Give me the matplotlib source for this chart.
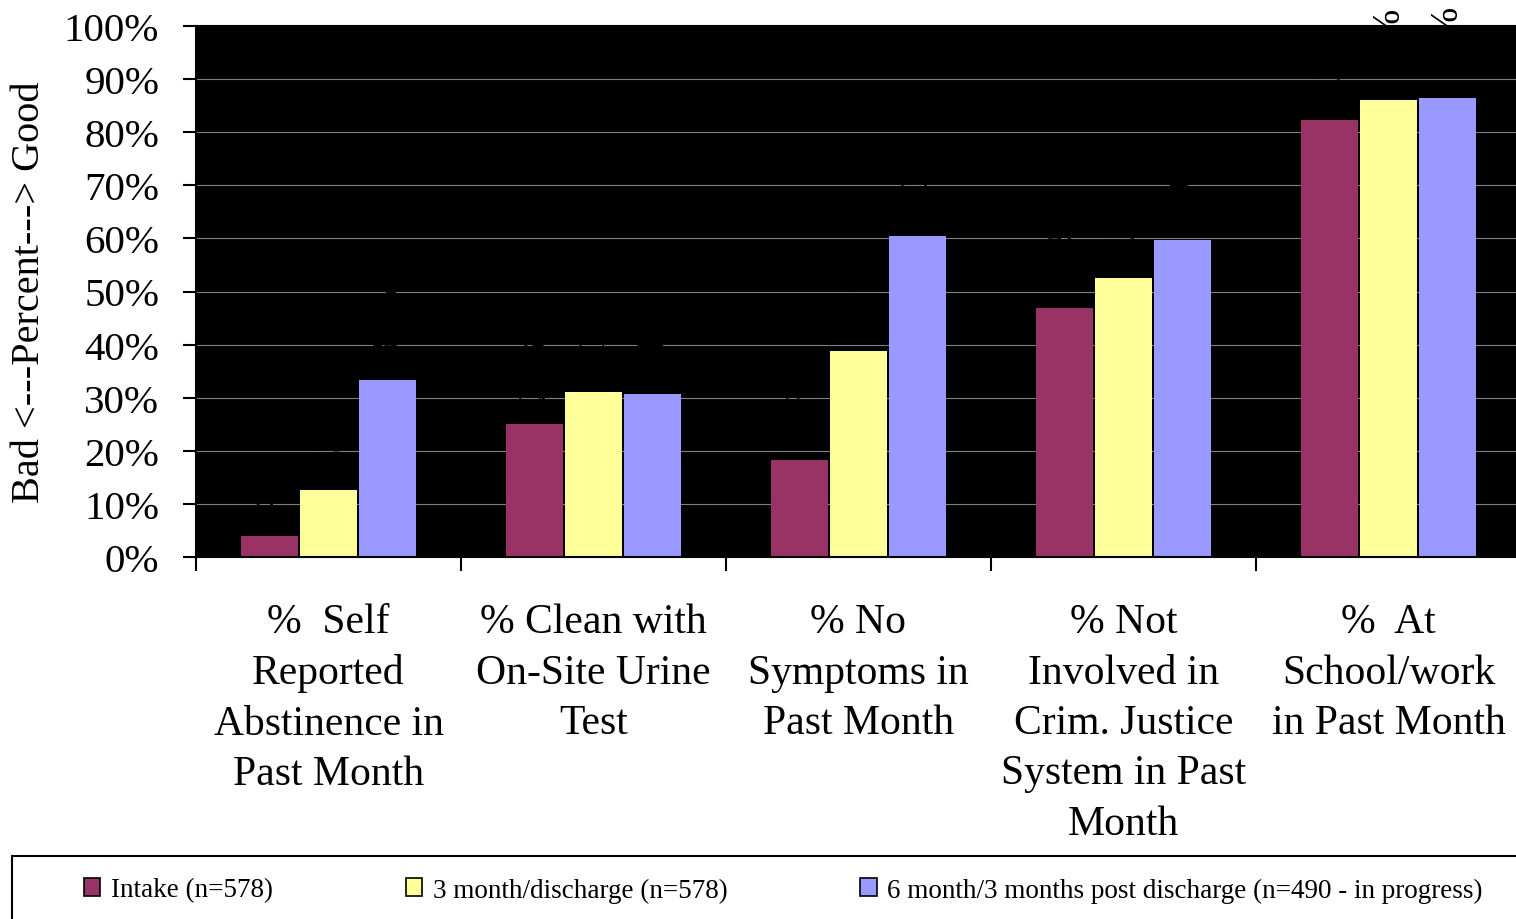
import numpy as np
import matplotlib
matplotlib.use('Agg')
import matplotlib.pyplot as plt
from matplotlib.patches import Rectangle, Patch
from matplotlib.ticker import FixedLocator, PercentFormatter

plt.rcParams['font.family'] = ['Liberation Serif', 'DejaVu Serif']

# outcome categories (x axis)
categories = ['%  Self\nReported\nAbstinence in\nPast Month',
              '% Clean with\nOn-Site Urine\nTest',
              '% No\nSymptoms in\nPast Month',
              '% Not\nInvolved in\nCrim. Justice\nSystem in Past\nMonth',
              '%  At\nSchool/work\nin Past Month']

# percent of clients at each follow-up point
intake = [4.0, 25.0, 18.3, 46.9, 82.3]
three_month = [12.6, 31.1, 38.8, 52.5, 86.1]
six_month = [33.3, 30.7, 60.5, 59.7, 86.4]

series_names = ['Intake (n=578)',
                '3 month/discharge (n=578)',
                '6 month/3 months post discharge (n=490 - in progress)']
series_colors = ['#993366', '#FFFF99', '#9999FF']
yticks = [0, 10, 20, 30, 40, 50, 60, 70, 80, 90, 100]

fig = plt.figure(figsize=(15.16, 9.2), dpi=100)
ax = fig.add_axes([196 / 1516, 1 - 558 / 920, 1325 / 1516, 531 / 920])
ax.set_facecolor('black')

x = np.arange(len(categories))
pitch = 0.222
width = 0.216
for k, (vals, col) in enumerate(zip([intake, three_month, six_month], series_colors)):
    xs = x + (k - 1) * pitch
    ax.bar(xs, vals, width=width, color=col, linewidth=0, zorder=2)
    # value labels (black, rotated)
    for xi, v in zip(xs, vals):
        ax.annotate('%.0f%%' % v, (xi, v), xytext=(0, 16.5), textcoords='offset points',
                    rotation=90, ha='center', va='bottom', fontsize=28, color='black',
                    zorder=3, annotation_clip=False)

ax.set_xlim(-0.5, len(categories) - 0.5)
ax.set_ylim(0, 100)
ax.set_yticks(yticks)
ax.yaxis.set_major_formatter(PercentFormatter(decimals=0))
ax.grid(axis='y', color='#808080', linewidth=0.8, zorder=1)
ax.set_axisbelow(True)

# group boundaries as major ticks, labels centred as minor ticks
ax.xaxis.set_major_locator(FixedLocator(np.arange(len(categories) + 1) - 0.5))
ax.xaxis.set_major_formatter(plt.NullFormatter())
ax.xaxis.set_minor_locator(FixedLocator(x))
ax.set_xticklabels(categories, minor=True, fontsize=30, linespacing=1.4, va='top')
ax.tick_params(axis='x', which='major', direction='out', length=10, width=1.5)
ax.tick_params(axis='x', which='minor', length=0, pad=33)
ax.tick_params(axis='y', direction='out', length=9.5, width=1.5, pad=17, labelsize=29.5)

for s in ax.spines.values():
    s.set_color('black')
    s.set_linewidth(1.5)

ax.set_ylabel('Bad <---Percent---> Good', fontsize=29)
ax.yaxis.set_label_coords(-0.112, 0.5)

# legend box across the bottom
fig.add_artist(Rectangle((12 / 1516, -0.05), 1.1, (920 - 857) / 920 + 0.05,
                         transform=fig.transFigure, fill=False,
                         edgecolor='black', linewidth=1.5))
handles = [Patch(facecolor=c, edgecolor='black', linewidth=1.2) for c in series_colors]
fig.legend(handles, series_names, ncol=3, loc='center left',
           bbox_to_anchor=(84 / 1516, 1 - 891 / 920), frameon=False,
           fontsize=19.5, handlelength=0.6, handleheight=0.6, handletextpad=0.4,
           columnspacing=4.9, borderpad=0, borderaxespad=0)

plt.savefig('out.png', dpi=100)
